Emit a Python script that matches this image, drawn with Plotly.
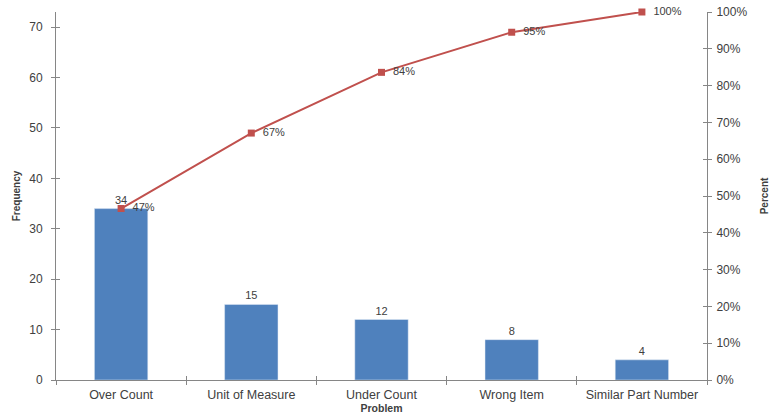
import plotly.graph_objects as go

categories = ["Over Count", "Unit of Measure", "Under Count", "Wrong Item", "Similar Part Number"]
frequency = [34, 15, 12, 8, 4]
cum_percent = [0.466, 0.671, 0.836, 0.945, 1.0]
pct_labels = ["47%", "67%", "84%", "95%", "100%"]
left_ticks = [0, 10, 20, 30, 40, 50, 60, 70]
right_ticks = [0, 0.1, 0.2, 0.3, 0.4, 0.5, 0.6, 0.7, 0.8, 0.9, 1.0]

FONT = "Liberation Sans"
TXT = "#404040"
AX = "#868686"

fig = go.Figure()
fig.add_trace(go.Bar(
    x=categories, y=frequency, marker_color="#4F81BD", width=0.41,
    text=[str(v) for v in frequency], textposition="outside",
    textfont=dict(family=FONT, size=11, color=TXT), cliponaxis=False,
    yaxis="y", showlegend=False))
fig.add_trace(go.Scatter(
    x=categories, y=cum_percent, mode="lines+markers+text",
    line=dict(color="#C0504D", width=2),
    marker=dict(symbol="square", size=7, color="#C0504D"),
    text=["  " + s for s in pct_labels], textposition="middle right",
    textfont=dict(family=FONT, size=11, color=TXT), cliponaxis=False,
    yaxis="y2", showlegend=False))

fig.update_layout(
    width=771, height=414,
    margin=dict(l=56, r=64, t=12, b=34),
    paper_bgcolor="white", plot_bgcolor="white",
    font=dict(family=FONT, size=12, color=TXT),
    bargap=0.59,
    xaxis=dict(
        type="category", range=[-0.5, 4.5], showline=True, linecolor=AX, linewidth=1,
        ticks="outside", tickson="boundaries", ticklen=4, tickcolor=AX, automargin=False,
        ticklabelstandoff=3,
        tickfont=dict(family=FONT, size=12.5, color=TXT), showgrid=False, zeroline=False,
        title=dict(text="<b>Problem</b>", font=dict(family=FONT, size=10.5, color=TXT), standoff=2),
    ),
    xaxis2=dict(
        type="category", range=[-0.5, 4.5], overlaying="x", matches="x", showline=False,
        ticks="inside", tickson="boundaries", ticklen=4, tickcolor=AX, showticklabels=False,
        showgrid=False, zeroline=False, anchor="y", automargin=False,
    ),
    yaxis=dict(
        range=[0, 73], tickvals=left_ticks, showline=True, linecolor=AX, linewidth=1,
        ticks="outside", ticklen=4, tickcolor=AX, showgrid=False, zeroline=False, automargin=False,
        ticklabelstandoff=6,
        tickfont=dict(family=FONT, size=12, color=TXT),
        title=dict(text="<b>Frequency</b>", font=dict(family="Liberation Sans Narrow, " + FONT, size=10, color=TXT), standoff=6),
    ),
    yaxis2=dict(
        range=[0, 1], tickvals=right_ticks, tickformat=".0%", overlaying="y", side="right",
        showline=True, linecolor=AX, linewidth=1, ticks="outside", ticklen=4, tickcolor=AX,
        showgrid=False, zeroline=False, tickfont=dict(family=FONT, size=12, color=TXT), automargin=False,
        ticklabelstandoff=2,
        title=dict(text="<b>Percent</b>", font=dict(family="Liberation Sans Narrow, " + FONT, size=10, color=TXT), standoff=14),
    ),
    yaxis3=dict(
        range=[0, 73], tickvals=left_ticks, overlaying="y", side="left", anchor="x",
        ticks="inside", ticklen=4, tickcolor=AX, showticklabels=False, showline=False,
        showgrid=False, zeroline=False, automargin=False,
    ),
    yaxis4=dict(
        range=[0, 1], tickvals=right_ticks, overlaying="y", side="right", anchor="x",
        ticks="inside", ticklen=4, tickcolor=AX, showticklabels=False, showline=False,
        showgrid=False, zeroline=False, automargin=False,
    ),
)
# invisible helper traces so the crossing tick axes are drawn
fig.add_trace(go.Scatter(x=[categories[0]], y=[0], xaxis="x2", yaxis="y3", mode="markers",
                         marker=dict(opacity=0), showlegend=False, hoverinfo="skip"))
fig.add_trace(go.Scatter(x=[categories[0]], y=[0], xaxis="x2", yaxis="y4", mode="markers",
                         marker=dict(opacity=0), showlegend=False, hoverinfo="skip"))

fig.write_html("out.html")
